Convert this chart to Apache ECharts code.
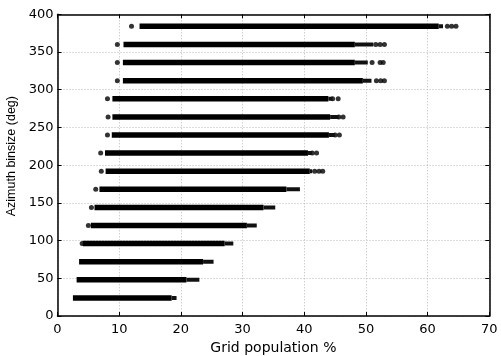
<!DOCTYPE html>
<html><head><meta charset="utf-8">
<script src="https://cdn.jsdelivr.net/npm/echarts@6/dist/echarts.min.js"></script>
<style>html,body{margin:0;padding:0;background:#fff}#c{width:501px;height:356px}</style>
</head><body><div id="c"></div>
<script>
// Azimuth binsize rows (deg)
const rowsY = [24, 48, 72, 96, 120, 144, 168, 192, 216, 240, 264, 288, 312, 336, 360, 384];
// Dense band start / end (Grid population %)
const denseStart = [2.5, 3.1, 3.5, 4.1, 5.4, 6.0, 6.8, 7.8, 7.7, 8.8, 8.9, 8.9, 10.6, 10.6, 10.7, 13.3];
const denseEnd   = [18.5, 20.9, 23.6, 27.1, 30.7, 33.4, 37.1, 40.9, 40.6, 44.0, 44.2, 43.9, 49.5, 48.2, 48.2, 61.8];
// End of the sparser tail of each band
const sparseEnd  = [19.3, 23.0, 25.3, 28.5, 32.3, 35.3, 39.3, 41.3, 41.3, 45.0, 45.6, 44.6, 50.9, 50.3, 51.2, 62.5];
// Isolated points
const outliers = [
  [4.0, 96], [5.0, 120], [5.5, 144], [6.2, 168], [7.1, 192], [7.0, 216], [8.1, 240], [8.2, 264], [8.1, 288],
  [9.7, 312], [9.7, 336], [9.7, 360], [12.0, 384],
  [41.7, 192], [42.4, 192], [43.0, 192], [41.3, 216], [42.0, 216],
  [45.0, 240], [45.7, 240], [45.6, 264], [46.3, 264], [44.6, 288], [45.5, 288],
  [51.7, 312], [52.4, 312], [53.0, 312], [51.0, 336], [52.3, 336], [52.8, 336],
  [51.6, 360], [52.3, 360], [53.0, 360], [63.2, 384], [63.9, 384], [64.6, 384]
];
const xName = 'Grid population %';
const yName = 'Azimuth binsize (deg)';

const series = [];
rowsY.forEach((y, i) => {
  series.push({type: 'line', data: [[denseStart[i], y], [denseEnd[i], y]], symbol: 'none',
    lineStyle: {color: '#000', width: 5.5, cap: 'butt'}, silent: true});
  series.push({type: 'line', data: [[denseEnd[i], y], [sparseEnd[i], y]], symbol: 'none',
    lineStyle: {color: '#111', width: 4, cap: 'butt'}, silent: true});
});
series.push({type: 'scatter', data: outliers, symbolSize: 5, itemStyle: {color: '#000'}, silent: true});

const tickFont = {fontFamily: 'DejaVu Sans', fontSize: 13, color: '#000'};
const gridLine = {show: true, lineStyle: {color: '#b8b8b8', type: [1, 2], width: 1}};
const axLine = {show: true, onZero: false, lineStyle: {color: '#000', width: 1.5}};
const tick = {show: true, inside: true, length: 4, lineStyle: {color: '#000', width: 1}};

const chart = echarts.init(document.getElementById('c'), null, {renderer: 'canvas'});
chart.setOption({
  animation: false,
  backgroundColor: '#fff',
  grid: {left: 57.5, right: 11.7, top: 14.3, bottom: 40, containLabel: false, outerBoundsMode: 'none'},
  xAxis: [
    {type: 'value', min: 0, max: 70, interval: 10, position: 'bottom',
     axisLine: axLine, axisTick: tick, splitLine: gridLine,
     axisLabel: Object.assign({margin: 7}, tickFont),
     name: xName, nameLocation: 'middle', nameGap: 21,
     nameTextStyle: {fontFamily: 'DejaVu Sans', fontSize: 14, color: '#000'}},
    {type: 'value', min: 0, max: 70, interval: 10, position: 'top',
     axisLine: axLine, axisTick: tick, splitLine: {show: false}, axisLabel: {show: false}}
  ],
  yAxis: [
    {type: 'value', min: 0, max: 400, interval: 50, position: 'left',
     axisLine: axLine, axisTick: tick, splitLine: gridLine,
     axisLabel: Object.assign({margin: 4}, tickFont),
     name: yName, nameLocation: 'middle', nameGap: 33,
     nameTextStyle: {fontFamily: 'Liberation Sans', fontSize: 12.5, color: '#000', padding: [0, 0, 0, 18]}},
    {type: 'value', min: 0, max: 400, interval: 50, position: 'right',
     axisLine: axLine, axisTick: tick, splitLine: {show: false}, axisLabel: {show: false}}
  ],
  series: series
});
</script></body></html>
